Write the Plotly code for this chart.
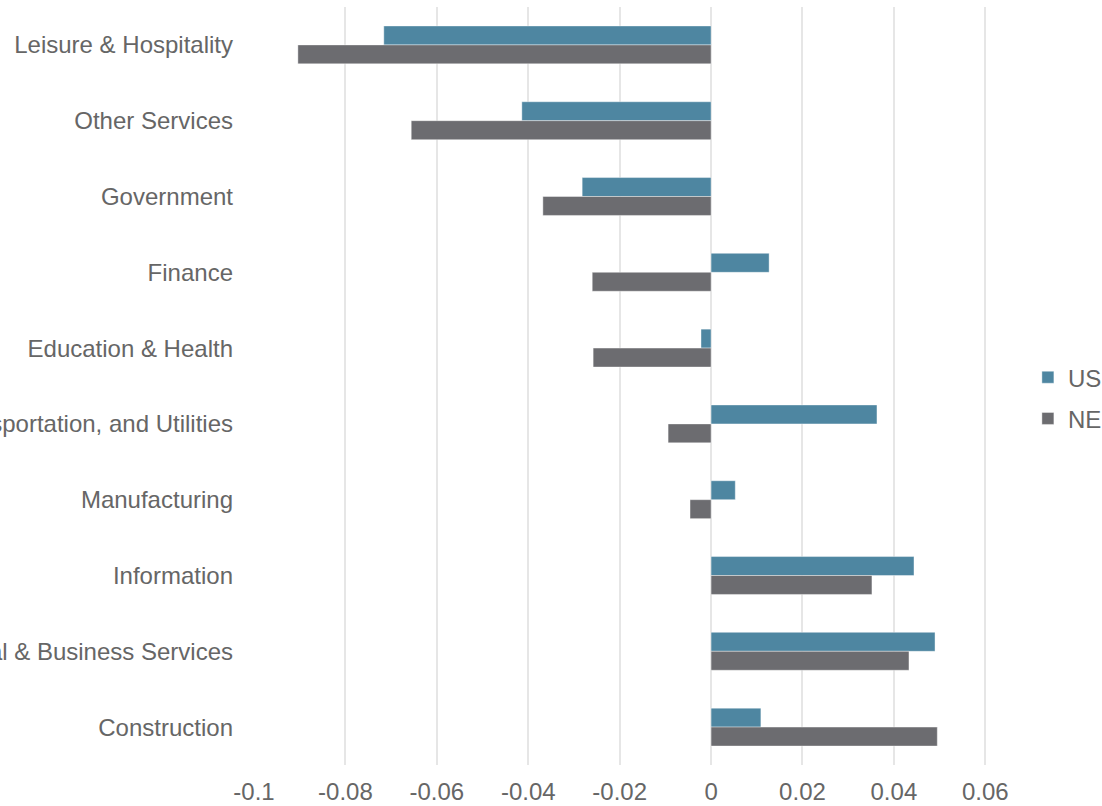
import plotly.graph_objects as go

categories = ["Leisure & Hospitality", "Other Services", "Government", "Finance",
              "Education & Health", "Trade, Transportation, and Utilities",
              "Manufacturing", "Information", "Professional & Business Services",
              "Construction"]
us_values = [-0.0716, -0.0414, -0.0282, 0.0127, -0.0022, 0.0363, 0.0053, 0.0444, 0.0490, 0.0109]
ne_values = [-0.0904, -0.0656, -0.0368, -0.0260, -0.0258, -0.0094, -0.0046, 0.0352, 0.0433, 0.0495]
tick_vals = [-0.1, -0.08, -0.06, -0.04, -0.02, 0, 0.02, 0.04, 0.06]
tick_text = ["-0.1", "-0.08", "-0.06", "-0.04", "-0.02", "0", "0.02", "0.04", "0.06"]

US_COLOR = "#4e86a1"
NE_COLOR = "#6c6c70"
TEXT = "#666666"
FONT = "Liberation Sans, Arial, sans-serif"
FS = 24

fig = go.Figure()
fig.add_trace(go.Bar(y=categories, x=us_values, name="US", orientation="h", legendgroup="us",
                     marker=dict(color=US_COLOR, line=dict(color="rgba(255,255,255,0.5)", width=0.8))))
fig.add_trace(go.Bar(y=categories, x=ne_values, name="NE", orientation="h", legendgroup="ne",
                     marker=dict(color=NE_COLOR, line=dict(color="rgba(255,255,255,0.5)", width=0.8))))

fig.update_layout(
    width=1102, height=806,
    barmode="group", bargap=0.5, bargroupgap=0,
    paper_bgcolor="white", plot_bgcolor="white",
    margin=dict(l=254, r=71, t=7, b=41, autoexpand=False),
    font=dict(family=FONT, size=FS, color=TEXT),
    legend=dict(x=0.996, xanchor="left", y=0.484, yanchor="middle",
                font=dict(size=FS, color=TEXT), itemwidth=30,
                tracegroupgap=7, bgcolor="rgba(0,0,0,0)"),
    showlegend=True,
)
fig.update_xaxes(range=[-0.1, 0.07], tickvals=tick_vals, ticktext=tick_text,
                 showgrid=True, gridcolor="#e6e6e6", gridwidth=1.5,
                 zeroline=False, showline=False, ticks="", ticklabelstandoff=10,
                 tickfont=dict(size=FS, color=TEXT), automargin=False)
fig.update_yaxes(autorange="reversed", showgrid=False, zeroline=False, showline=False,
                 ticks="", ticklabelstandoff=20,
                 tickfont=dict(size=FS, color=TEXT), automargin=False)

fig.write_html("out.html")
